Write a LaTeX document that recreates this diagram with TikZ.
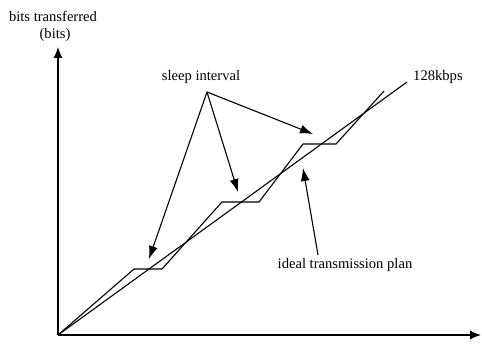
\documentclass[tikz,border=0pt]{standalone}
\usepackage{fontspec}
\setmainfont{Liberation Serif}
\usetikzlibrary{arrows.meta}
\begin{document}
\begin{tikzpicture}[x=1pt,y=1pt,
  line/.style={line width=1.1pt, line join=miter},
  pointer/.style={line width=1.1pt, -{Latex[length=13pt,width=9pt]}},
  axis/.style={line width=1.1pt, -{Latex[length=11pt,width=9pt]}},
  lbl/.style={font=\fontsize{14.6}{17}\selectfont, inner sep=0pt}]
\useasboundingbox (0,0) rectangle (482,343);
% axes
\coordinate (O) at (58,8);
\coordinate (ytip) at (58,296);
\coordinate (xtip) at (481,8);
\draw[axis] (O) -- (ytip);
\draw[axis] (O) -- (xtip);
\node[lbl] (ylab1) at (53,327) {bits transferred};
\node[lbl] (ylab2) at (55,308) {(bits)};
% staircase
\coordinate (s1) at (134,74);
\coordinate (s2) at (162,74);
\coordinate (s3) at (222,141);
\coordinate (s4) at (259,141);
\coordinate (s5) at (303,199);
\coordinate (s6) at (336,199);
\coordinate (s7) at (384,252);
\draw[line] (O) -- (s1) -- (s2) -- (s3) -- (s4) -- (s5) -- (s6) -- (s7);
% ideal line
\coordinate (iend) at (407,261);
\draw[line] (O) -- (iend);
\node[lbl, anchor=west] (rate) at (413,266) {128kbps};
% sleep interval
\node[lbl] (sleep) at (201,266) {sleep interval};
\coordinate (hub) at (207,251);
\coordinate (t1) at (149,84);
\coordinate (t2) at (238,151);
\coordinate (t3) at (313,209);
\draw[pointer] (hub) -- (t1);
\draw[pointer] (hub) -- (t2);
\draw[pointer] (hub) -- (t3);
% ideal transmission plan
\node[lbl] (plan) at (345,78) {ideal transmission plan};
\coordinate (ptail) at (318,88);
\coordinate (ptip) at (303,175);
\draw[pointer] (ptail) -- (ptip);
\end{tikzpicture}
\end{document}
